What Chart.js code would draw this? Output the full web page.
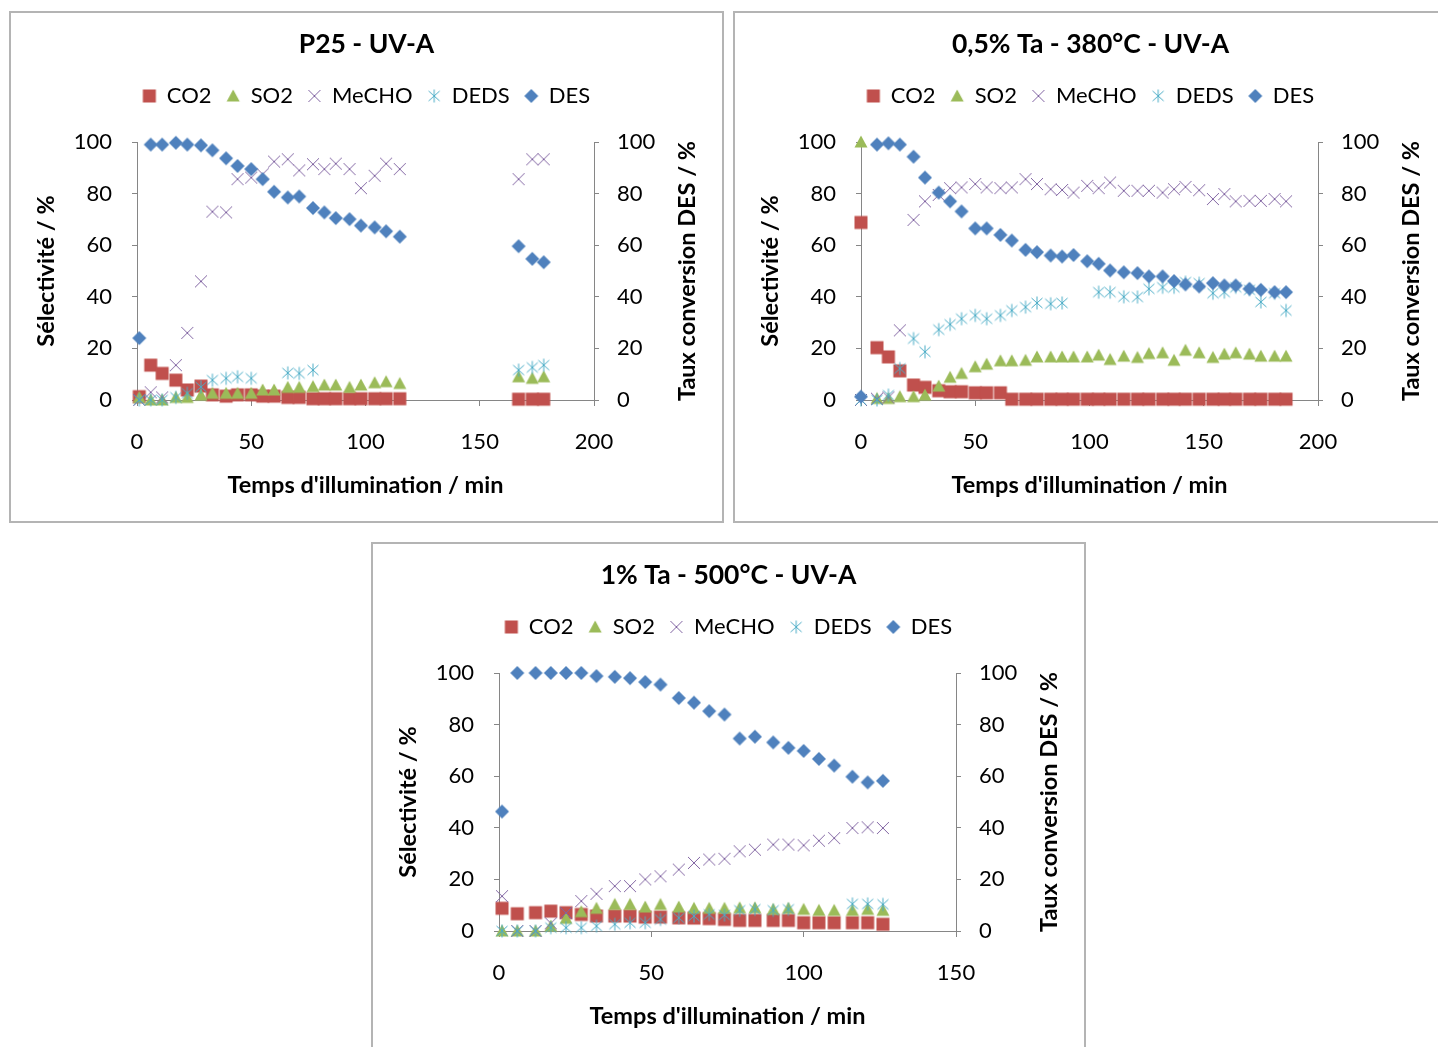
<!DOCTYPE html>
<html>
<head>
<meta charset="utf-8">
<script src="https://cdn.jsdelivr.net/npm/chart.js@4.4.1/dist/chart.umd.min.js"></script>
<style>
  body { margin: 0; background: #fff; width: 1438px; height: 1047px; overflow: hidden; position: relative; }
  .panel { position: absolute; width: 715px; height: 512px; box-shadow: inset 0 0 0 2px #b4b4b4; }
  .panel canvas { position: absolute; left: 0; top: 0; }
</style>
</head>
<body>
<div class="panel" style="left:9px;top:11px"><canvas id="c1" width="715" height="512"></canvas></div>
<div class="panel" style="left:733px;top:11px"><canvas id="c2" width="715" height="512"></canvas></div>
<div class="panel" style="left:371px;top:542px"><canvas id="c3" width="715" height="512"></canvas></div>
<script>
// P25 - UV-A
const p25Time  = [1, 6, 11, 17, 22, 28, 33, 39, 44, 50, 55, 60, 66, 71, 77, 82, 87, 93, 98, 104, 109, 115, 167, 173, 178];
const p25CO2   = [1.3, 13.5, 10.3, 7.7, 3.9, 5.4, 2, 1.5, 2, 2, 1.5, 1.5, 1, 1, 0.5, 0.5, 0.5, 0.5, 0.5, 0.5, 0.5, 0.5, 0.3, 0.3, 0.3];
const p25SO2   = [1, 0, 0, 1, 1, 1.9, 2.6, 2.6, 2.6, 2.6, 3.9, 3.9, 4.9, 4.9, 5.2, 5.8, 5.8, 4.9, 5.8, 6.7, 7.1, 6.4, 9, 8.4, 9];
const p25MeCHO = [0, 3, 1, 13.5, 26, 46, 73, 72.7, 85.6, 86.2, 87.5, 92.4, 93.3, 89, 91.4, 89.5, 91.6, 89.5, 82.1, 86.9, 91.6, 89.5, 85.6, 93.3, 93.3];
const p25DEDS  = [0, 0, 0, 1, 2.6, 5.1, 7.7, 8.4, 9, 8.4, null, null, 10.5, 10.3, 11.6, null, null, null, null, null, null, null, 11.6, 12.6, 13.5];
const p25DES   = [24, 99, 99, 99.7, 99, 98.7, 96.8, 93.7, 90.7, 89.5, 85.6, 80.7, 78.5, 78.9, 74.4, 72.7, 70.5, 70.1, 67.6, 66.9, 65.4, 63.3, 59.6, 54.7, 53.4];

// 0,5% Ta - 380°C - UV-A
const ta05Time  = [0, 7, 12, 17, 23, 28, 34, 39, 44, 50, 55, 61, 66, 72, 77, 83, 88, 93, 99, 104, 109, 115, 121, 126, 132, 137, 142, 148, 154, 159, 164, 170, 175, 181, 186];
const ta05CO2   = [68.8, 20.3, 16.7, 11.3, 5.8, 4.9, 3.6, 3.2, 3.2, 2.8, 2.8, 2.8, 0.3, 0.3, 0.3, 0.3, 0.3, 0.3, 0.3, 0.3, 0.3, 0.3, 0.3, 0.3, 0.3, 0.3, 0.3, 0.3, 0.3, 0.3, 0.3, 0.3, 0.3, 0.3, 0.3];
const ta05SO2   = [100, 0.6, 0.6, 1.3, 1.3, 1.9, 5.4, 8.8, 10.3, 12.9, 13.9, 15.2, 15.2, 15.4, 16.7, 16.7, 16.7, 16.7, 16.7, 17.4, 15.7, 17, 16.5, 18, 18.3, 15.4, 19.3, 18.3, 16.5, 17.8, 18.3, 17.8, 17, 17, 17];
const ta05MeCHO = [0, 0.5, 1, 27, 69.8, 77, 79.5, 82.1, 82.4, 83.7, 82.4, 82.1, 82.4, 85.6, 83.7, 81.7, 81.4, 80.4, 83, 82.1, 84.3, 81.1, 81.1, 81.1, 80.4, 81.7, 82.6, 81.3, 77.9, 79.8, 77, 77.2, 77.2, 77.9, 77];
const ta05DEDS  = [0, 0, 1.9, 12.2, 23.8, 18.7, 27.3, 29.3, 31.5, 32.8, 31.5, 32.8, 34.7, 36, 37.6, 37.3, 37.6, null, null, 41.8, 41.8, 40, 39.9, 43.1, 43.7, 43.7, 45.7, 45.3, 41.4, 41.8, 43.7, 42.7, 38, 41.4, 34.7];
const ta05DES   = [1.3, 99, 99.5, 99, 94.3, 86.2, 80.4, 77, 73.1, 66.5, 66.5, 64, 61.8, 58.2, 57.3, 56, 55.6, 56.2, 53.8, 52.8, 50.2, 49.5, 49.2, 47.9, 47.9, 46.1, 44.8, 44, 45.3, 44.4, 44.4, 43.1, 42.7, 41.8, 41.8];

// 1% Ta - 500°C - UV-A
const ta1Time  = [1, 6, 12, 17, 22, 27, 32, 38, 43, 48, 53, 59, 64, 69, 74, 79, 84, 90, 95, 100, 105, 110, 116, 121, 126];
const ta1CO2   = [8.8, 6.7, 7.1, 7.7, 7.1, 6.4, 5.8, 5.8, 5.8, 5.4, 5.4, 5.1, 5, 4.8, 4.5, 4.1, 4.1, 4.1, 4.1, 3.2, 3.2, 3.2, 3.2, 3.2, 2.6];
const ta1SO2   = [0, 0, 0, 1.9, 4.9, 7.5, 8.8, 10.3, 10.3, 9.3, 10.3, 9.3, 8.8, 8.8, 8.8, 9, 9, 8.4, 8.8, 8.4, 8, 8, 8, 8.4, 8];
const ta1MeCHO = [13.5, 0, 0, 3, 7, 11.6, 14.4, 17.4, 17.4, 20, 21.2, 23.8, 26.4, 27.7, 28, 30.9, 31.5, 33.5, 33.5, 33.2, 35, 36, 39.9, 40.2, 39.9];
const ta1DEDS  = [0, 0, 0, 1.3, 1.3, 1.3, 1.9, 2.6, 3.2, 3.2, 4.5, 5.1, 5.8, 6.4, 6.2, 8, 8.4, 8, 8.4, null, null, null, 10.5, 10.5, 10.3];
const ta1DES   = [46.3, 100, 100, 100, 100, 100, 98.8, 98.5, 98, 96.5, 95.5, 90.3, 88.5, 85.2, 83.9, 74.6, 75.3, 73.1, 71, 69.8, 66.7, 64.1, 59.8, 57.6, 58.2];

const seriesNames = ["CO2", "SO2", "MeCHO", "DEDS", "DES"];
const yTicks = [0, 20, 40, 60, 80, 100];

const red = "#C0504D", green = "#9BBB59", purple = "#8064A2", cyan = "#4BACC6", blue = "#4F81BD";
const axisGrey = "#868686";

Chart.defaults.font.family = "Lato, 'Open Sans', sans-serif";
Chart.defaults.color = "#000";

// excel-like markers
function marker(shape, color) {
    const c = document.createElement("canvas");
    c.width = 16; c.height = 16;
    const g = c.getContext("2d");
    g.fillStyle = color;
    g.strokeStyle = color;
    g.lineWidth = 1;
    g.beginPath();
    if (shape === "square") {
        g.fillRect(1.5, 1.5, 13, 13);
    } else if (shape === "triangle") {
        g.moveTo(8, 1.5); g.lineTo(14.5, 13.5); g.lineTo(1.5, 13.5); g.closePath(); g.fill();
    } else if (shape === "diamond") {
        g.moveTo(8, 1); g.lineTo(15, 8); g.lineTo(8, 15); g.lineTo(1, 8); g.closePath(); g.fill();
    } else if (shape === "x") {
        g.moveTo(2, 2); g.lineTo(14, 14); g.moveTo(14, 2); g.lineTo(2, 14); g.stroke();
    } else if (shape === "star") {
        g.moveTo(2.5, 3); g.lineTo(13.5, 13); g.moveTo(13.5, 3); g.lineTo(2.5, 13);
        g.moveTo(8, 1.5); g.lineTo(8, 14.5); g.stroke();
    }
    return c;
}

const markers = [
    marker("square", red),
    marker("triangle", green),
    marker("x", purple),
    marker("star", cyan),
    marker("diamond", blue)
];
const colors = [red, green, purple, cyan, blue];

const rightTitle = {
    id: "rightTitle",
    afterDraw(chart) {
        const ctx = chart.ctx, a = chart.chartArea;
        ctx.save();
        ctx.translate(a.right + 93, (a.top + a.bottom) / 2);
        ctx.rotate(-Math.PI / 2);
        ctx.font = "bold 23.5px Lato";
        ctx.fillStyle = "#000";
        ctx.textAlign = "center";
        ctx.textBaseline = "middle";
        ctx.fillText("Taux conversion DES / %", 0, 0);
        ctx.restore();
    }
};

function yScale(pos, width, title) {
    return {
        type: "linear",
        position: pos,
        min: 0,
        max: 100,
        afterBuildTicks: s => { s.ticks = yTicks.map(v => ({ value: v })); },
        ticks: { padding: pos === "left" ? 20 : 18, font: { size: 22 } },
        grid: { drawOnChartArea: false, drawTicks: true, tickLength: 5, color: axisGrey },
        border: { color: axisGrey },
        title: title ? { display: true, text: title, font: { size: 23.5, weight: "bold" }, padding: { top: 23.6, bottom: 0 } } : { display: false },
        afterFit: s => { s.width = width; }
    };
}

function makeChart(id, title, xMax, time, values) {
    const datasets = values.map((vals, k) => ({
        label: seriesNames[k],
        data: time.map((t, i) => ({ x: t, y: vals[i] })).filter(p => p.y !== null),
        pointStyle: markers[k],
        pointRadius: 7,
        backgroundColor: colors[k],
        borderColor: colors[k],
        yAxisID: k === 4 ? "y2" : "y",
        order: 5 - k,
        clip: false
    }));

    return new Chart(document.getElementById(id), {
        type: "scatter",
        data: { datasets },
        options: {
            responsive: false,
            animation: false,
            layout: { padding: 0 },
            plugins: {
                title: {
                    display: true,
                    text: title,
                    font: { size: 26.5, weight: "bold" },
                    padding: { top: 17.1, bottom: 10.1 }
                },
                legend: {
                    position: "top",
                    labels: {
                        usePointStyle: true,
                        boxWidth: 13,
                        boxHeight: 13,
                        padding: 15,
                        font: { size: 22 },
                        sort: (a, b) => a.datasetIndex - b.datasetIndex
                    }
                },
                subtitle: {
                    display: true,
                    text: "",
                    weight: 500,
                    font: { size: 1 },
                    padding: { top: 23.8, bottom: 0 }
                },
                tooltip: { enabled: false }
            },
            scales: {
                x: {
                    type: "linear",
                    min: 0,
                    max: xMax,
                    ticks: { stepSize: 50, padding: 23, font: { size: 22 } },
                    grid: { drawOnChartArea: false, drawTicks: true, tickLength: 6, color: axisGrey },
                    border: { color: axisGrey },
                    title: { display: true, text: "Temps d'illumination / min", font: { size: 23.5, weight: "bold" }, padding: { top: 0, bottom: 23 } },
                    afterFit: s => { s.height = 123; }
                },
                y: yScale("left", 128, "Sélectivité / %"),
                y2: yScale("right", 130, null)
            }
        },
        plugins: [rightTitle]
    });
}

document.fonts.load("20px Lato").then(() => document.fonts.load("bold 20px Lato")).finally(() => {
    makeChart("c1", "P25 - UV-A", 200, p25Time, [p25CO2, p25SO2, p25MeCHO, p25DEDS, p25DES]);
    makeChart("c2", "0,5% Ta - 380°C - UV-A", 200, ta05Time, [ta05CO2, ta05SO2, ta05MeCHO, ta05DEDS, ta05DES]);
    makeChart("c3", "1% Ta - 500°C - UV-A", 150, ta1Time, [ta1CO2, ta1SO2, ta1MeCHO, ta1DEDS, ta1DES]);
});
</script>
</body>
</html>
